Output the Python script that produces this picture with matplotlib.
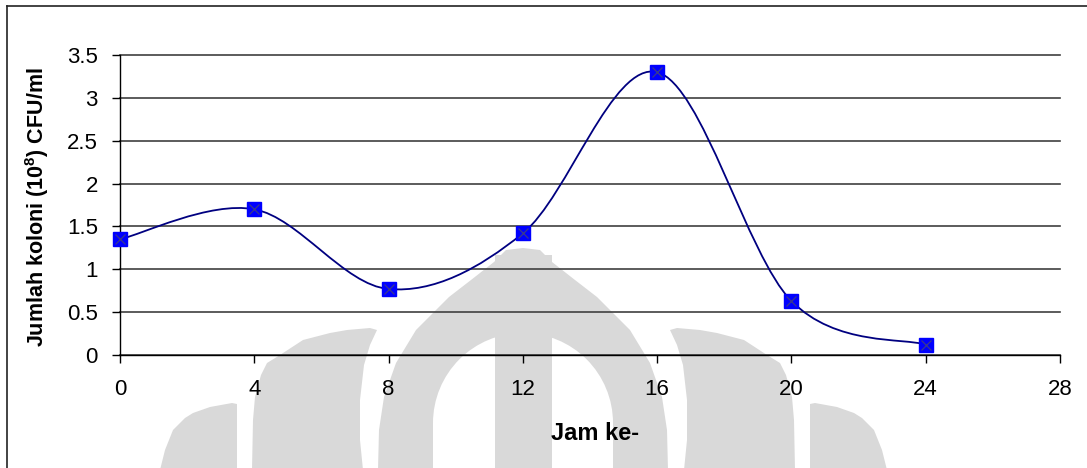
import numpy as np
import matplotlib
matplotlib.use("Agg")
import matplotlib.pyplot as plt
from matplotlib.path import Path
from matplotlib.patches import PathPatch, Polygon, Circle, Rectangle
from matplotlib.lines import Line2D
from matplotlib.transforms import Affine2D

plt.rcParams['font.family'] = ['Liberation Sans', 'DejaVu Sans']
plt.rcParams['mathtext.fontset'] = 'custom'
plt.rcParams['mathtext.rm'] = 'Liberation Sans'
plt.rcParams['mathtext.bf'] = 'Liberation Sans:bold'

# ---- data ----
hours = [0, 4, 8, 12, 16, 20, 24]
cfu = [1.35, 1.70, 0.77, 1.42, 3.30, 0.63, 0.12]
x_ticks = [0, 4, 8, 12, 16, 20, 24, 28]
y_ticks = [0, 0.5, 1, 1.5, 2, 2.5, 3, 3.5]
x_label = "Jam ke-"
y_label = r"Jumlah koloni (10$^{\mathbf{8}}$) CFU/ml"

W, H = 1087, 468
fig = plt.figure(figsize=(W / 100, H / 100), dpi=100)
fig.patch.set_facecolor('white')
pix = Affine2D().scale(1 / W, -1 / H).translate(0, 1) + fig.transFigure

# ---- background watermark (decoration) ----
wm = '#d9d9d9'
piece1 = [(160, 470), (165, 450), (173, 430), (185, 418), (193, 413), (210, 407),
          (232, 403), (237, 404), (237, 470)]
piece2 = [(252, 470), (253, 420), (255, 397), (261, 375), (267, 363), (280, 355),
          (303, 340), (330, 333), (347, 330), (370, 328), (377, 330), (370, 345),
          (364, 365), (360, 400), (360, 440), (363, 470)]
dome_r = [(523, 248), (540, 250), (552, 262), (575, 280), (597, 297), (630, 330),
          (650, 363), (662, 397), (667, 430), (668, 470)]
dome = [(1046 - x, y) for x, y in dome_r[::-1]] + dome_r
for poly in (piece1, piece2, [(1047 - x, y) for x, y in piece1],
             [(1047 - x, y) for x, y in piece2], dome):
    fig.add_artist(Polygon(poly, closed=True, fc=wm, ec='none', transform=pix, zorder=-5))
fig.add_artist(Circle((523, 423), 90, fc='white', ec='none', transform=pix, zorder=-4))
fig.add_artist(Rectangle((433, 423), 180, 60, fc='white', ec='none', transform=pix, zorder=-4))
fig.add_artist(Rectangle((495, 255), 57, 230, fc=wm, ec='none', transform=pix, zorder=-3))

# ---- outer border ----
fig.add_artist(Line2D([7, 1090], [6, 6], color='#222222', lw=1.2, transform=pix))
fig.add_artist(Line2D([7, 7], [6, 470], color='#222222', lw=1.2, transform=pix))

# ---- axes ----
ax = fig.add_axes([120 / W, (H - 355) / H, 940 / W, 300 / H])
ax.set_facecolor('none')
ax.set_xlim(0, 28)
ax.set_ylim(0, 3.5)
ax.set_xticks(x_ticks)
ax.set_xticklabels([f"{v:g}" for v in x_ticks])
ax.set_yticks(y_ticks)
ax.set_yticklabels([f"{v:g}" for v in y_ticks])
ax.tick_params(axis='x', direction='out', length=6, width=1, pad=11,
               labelsize=16, colors='black')
ax.tick_params(axis='y', direction='out', length=6, width=1, pad=10,
               labelsize=16, colors='black')
for s in ('top', 'right'):
    ax.spines[s].set_visible(False)
for s in ('left', 'bottom'):
    ax.spines[s].set_color('black')
    ax.spines[s].set_linewidth(1.0)
ax.grid(axis='y', color='#404040', lw=1.2)
ax.set_axisbelow(True)
for gl in ax.get_ygridlines():
    gl.set_clip_on(False)

# smoothed line (Excel-style Bezier through the points)
P = np.column_stack([hours, cfu]).astype(float)
n = len(P)
verts = [tuple(P[0])]
codes = [Path.MOVETO]
for i in range(n - 1):
    p0 = P[max(i - 1, 0)]
    p1 = P[i]
    p2 = P[i + 1]
    p3 = P[min(i + 2, n - 1)]
    c1 = p1 + (p2 - p0) / 6.0
    c2 = p2 - (p3 - p1) / 6.0
    verts += [tuple(c1), tuple(c2), tuple(p2)]
    codes += [Path.CURVE4] * 3
ax.add_patch(PathPatch(Path(verts, codes), fc='none', ec='#000080', lw=1.3,
                       transform=ax.transData, zorder=2))

ax.plot(hours, cfu, ls='none', marker='s', ms=10, mfc='#0000ff', mec='#0000ff',
        clip_on=False, zorder=3)
ax.plot(hours, cfu, ls='none', marker='x', ms=7, mec='#3a3a8c', mew=0.9,
        clip_on=False, zorder=4)

fig.text(37, 207, y_label, rotation=90, ha='center', va='center',
         fontsize=15.5, fontweight='bold', transform=pix)
fig.text(595, 433, x_label, ha='center', va='center', fontsize=17,
         fontweight='bold', transform=pix)

fig.savefig('out.png', dpi=100)
